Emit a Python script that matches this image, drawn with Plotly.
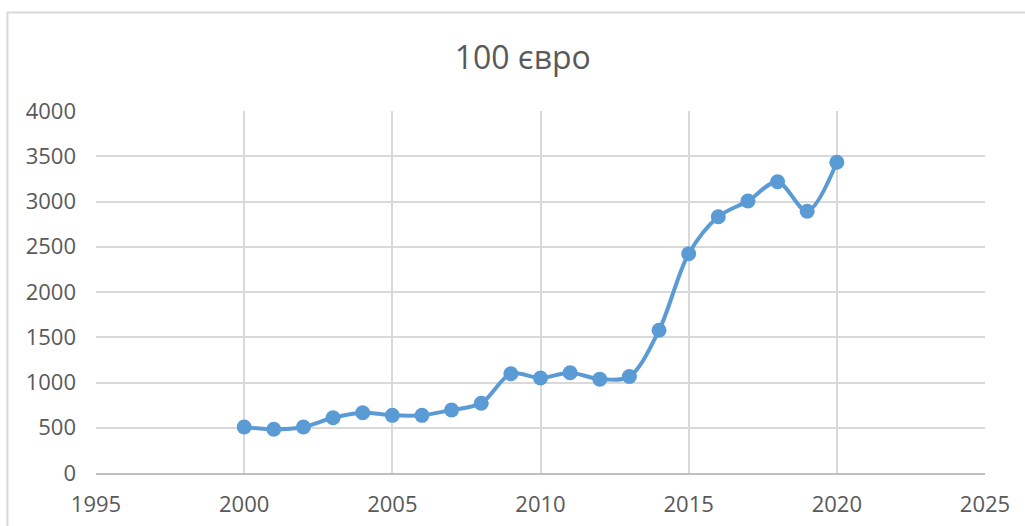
import plotly.graph_objects as go

# Annual values for the "100 євро" series
years = [2000, 2001, 2002, 2003, 2004, 2005, 2006, 2007, 2008, 2009, 2010,
         2011, 2012, 2013, 2014, 2015, 2016, 2017, 2018, 2019, 2020]
values = [508, 483, 508, 611, 666, 637, 637, 696, 770, 1097, 1050,
          1108, 1037, 1066, 1577, 2423, 2832, 3006, 3219, 2892, 3433]

x_ticks = [1995, 2000, 2005, 2010, 2015, 2020, 2025]
y_ticks = [0, 500, 1000, 1500, 2000, 2500, 3000, 3500, 4000]

blue = "#5B9BD5"
grid = "#D9D9D9"
text_color = "#595959"
font_family = "Open Sans, Liberation Sans, sans-serif"

fig = go.Figure()
fig.add_trace(go.Scatter(
    x=years,
    y=values,
    mode="lines+markers",
    line=dict(color=blue, width=4, shape="spline", smoothing=0.9),
    marker=dict(color=blue, size=15),
    cliponaxis=False,
    showlegend=False,
))

fig.update_layout(
    width=1025,
    height=526,
    margin=dict(l=96, r=40, t=111, b=53, autoexpand=False),
    paper_bgcolor="white",
    plot_bgcolor="white",
    title=dict(
        text="100 євро",
        x=0.510,
        xanchor="center",
        y=0.890,
        yanchor="middle",
        font=dict(family=font_family, size=32, color=text_color),
    ),
    xaxis=dict(
        range=[1995, 2025],
        tickvals=x_ticks,
        ticktext=[str(t) for t in x_ticks],
        showgrid=True,
        gridcolor=grid,
        gridwidth=1.5,
        zeroline=False,
        showline=True,
        linecolor="#BFBFBF",
        linewidth=1.5,
        ticks="",
        automargin=False,
        ticklabelstandoff=11,
        tickfont=dict(family=font_family, size=22, color=text_color),
    ),
    yaxis=dict(
        range=[0, 4000],
        tickvals=y_ticks,
        ticktext=[str(t) for t in y_ticks],
        showgrid=True,
        gridcolor=grid,
        gridwidth=1.5,
        zeroline=False,
        showline=False,
        ticks="",
        automargin=False,
        ticklabelstandoff=19,
        tickfont=dict(family=font_family, size=22, color=text_color),
    ),
    shapes=[
        # chart frame
        dict(
            type="rect", xref="paper", yref="paper",
            x0=-0.0996, x1=1.2, y0=-0.3, y1=1.272,
            line=dict(color=grid, width=2),
            fillcolor="rgba(0,0,0,0)",
            layer="below",
        ),
    ],
)

fig.write_html("out.html")
